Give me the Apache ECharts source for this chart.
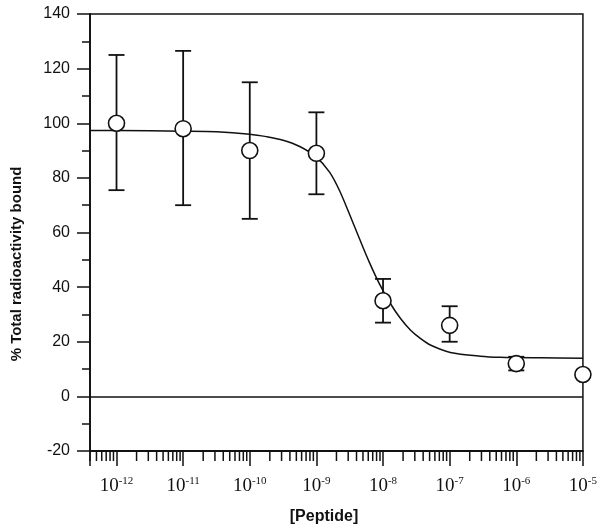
<!DOCTYPE html>
<html>
<head>
<meta charset="utf-8">
<script src="https://cdn.jsdelivr.net/npm/echarts@6/dist/echarts.min.js"></script>
<style>
  html, body { margin: 0; padding: 0; background: #fff; }
  #chart { width: 600px; height: 532px; }
</style>
</head>
<body>
<div id="chart"></div>
<script>
// measured points: concentration (M), % bound, error bar ends
var conc = [1e-12, 1e-11, 1e-10, 1e-9, 1e-8, 1e-7, 1e-6, 1e-5];
var bound = [100, 98, 90, 89, 35, 26, 12, 8];
var errLow = [75.5, 70, 65, 74, 27, 20, 9.5, null];
var errHigh = [125, 126.5, 115, 104, 43, 33, 14.5, null];

// fitted curve (log10 of concentration, % bound)
var curveExp = [-12.4, -12, -11, -10.5, -10, -9.75, -9.5, -9.25, -9.0, -8.8, -8.65, -8.5, -8.35,
  -8.2, -8.05, -7.89, -7.74, -7.59, -7.44, -7.29, -6.99, -6.54, -6.24, -5.64, -5.0];
var curveVal = [97.3, 97.3, 97.1, 96.9, 96.0, 95.1, 93.8, 91.5, 87.6, 82.0, 75.2, 66.5, 57.5,
  48.8, 41.0, 34.0, 28.6, 24.3, 21.2, 18.8, 16.1, 14.7, 14.3, 14.1, 14.0];

var yTicks = [-20, 0, 20, 40, 60, 80, 100, 120, 140];

var xMin = 4e-13, xMax = 1e-5;

// minor ticks on the log axis: 2..9 within each decade
var minorTicks = [];
for (var n = -13; n <= -6; n++) {
  for (var k = 2; k <= 9; k++) {
    var v = k * Math.pow(10, n);
    if (v >= xMin * 0.999 && v < xMax) minorTicks.push([v, -20]);
  }
}

var ink = '#111';
var myChart = echarts.init(document.getElementById('chart'));

var option = {
  animation: false,
  grid: {
    left: 90, right: 16, top: 14, bottom: 81,
    show: true, borderColor: ink, borderWidth: 1.5
  },
  xAxis: {
    type: 'log',
    logBase: 10,
    min: xMin,
    max: xMax,
    axisLine: { onZero: false, lineStyle: { color: ink, width: 1.8 } },
    axisTick: { length: 15, lineStyle: { color: ink, width: 1.5 } },
    splitLine: { show: false },
    axisLabel: {
      margin: 25,
      formatter: function (value) {
        var l = Math.log10(value);
        var e = Math.round(l);
        if (Math.abs(l - e) > 1e-6) return '';
        return '{b|10}{s|' + e + '}';
      },
      rich: {
        b: { fontFamily: 'Liberation Serif', fontSize: 19, lineHeight: 20, color: ink },
        s: { fontFamily: 'Liberation Serif', fontSize: 11, lineHeight: 11, verticalAlign: 'top', color: ink }
      }
    }
  },
  yAxis: {
    type: 'value',
    min: -20,
    max: 140,
    interval: 20,
    axisLine: { show: true, lineStyle: { color: ink, width: 1.8 } },
    axisTick: { length: 13, lineStyle: { color: ink, width: 1.5 } },
    minorTick: { show: true, splitNumber: 2, length: 8, lineStyle: { color: ink, width: 1.5 } },
    splitLine: { show: false },
    axisLabel: {
      margin: 20,
      fontFamily: 'Liberation Sans',
      fontSize: 16,
      color: ink,
      formatter: function (v) { return yTicks.indexOf(v) >= 0 ? String(v) : ''; }
    }
  },
  graphic: [
    {
      type: 'text',
      x: 17, y: 264,
      rotation: Math.PI / 2,
      style: {
        text: '% Total radioactivity bound',
        fontFamily: 'Liberation Sans', fontWeight: 'bold', fontSize: 15,
        fill: ink, align: 'center', verticalAlign: 'middle'
      }
    },
    {
      type: 'text',
      x: 324, y: 517,
      style: {
        text: '[Peptide]',
        fontFamily: 'Liberation Sans', fontWeight: 'bold', fontSize: 16,
        fill: ink, align: 'center', verticalAlign: 'middle'
      }
    }
  ],
  series: [
    {
      name: 'minor ticks',
      type: 'custom',
      silent: true,
      clip: false,
      data: minorTicks,
      renderItem: function (params, api) {
        var p = api.coord([api.value(0), api.value(1)]);
        return {
          type: 'line',
          shape: { x1: p[0], y1: p[1], x2: p[0], y2: p[1] + 10 },
          style: { stroke: ink, lineWidth: 1.5 }
        };
      }
    },
    {
      name: 'fit',
      type: 'line',
      smooth: 0.3,
      showSymbol: false,
      silent: true,
      z: 2,
      lineStyle: { color: ink, width: 1.5 },
      data: curveExp.map(function (e, i) { return [Math.pow(10, e), curveVal[i]]; }),
      markLine: {
        silent: true,
        symbol: 'none',
        label: { show: false },
        lineStyle: { color: ink, width: 1.5, type: 'solid' },
        data: [{ yAxis: 0 }]
      }
    },
    {
      name: 'error',
      type: 'custom',
      silent: true,
      z: 3,
      data: conc.map(function (c, i) { return [c, errLow[i], errHigh[i]]; })
        .filter(function (d) { return d[1] !== null; }),
      renderItem: function (params, api) {
        var lo = api.coord([api.value(0), api.value(1)]);
        var hi = api.coord([api.value(0), api.value(2)]);
        var w = 8;
        var st = { stroke: ink, lineWidth: 1.8 };
        return {
          type: 'group',
          children: [
            { type: 'line', shape: { x1: lo[0], y1: lo[1], x2: hi[0], y2: hi[1] }, style: st },
            { type: 'line', shape: { x1: lo[0] - w, y1: lo[1], x2: lo[0] + w, y2: lo[1] }, style: st },
            { type: 'line', shape: { x1: hi[0] - w, y1: hi[1], x2: hi[0] + w, y2: hi[1] }, style: st }
          ]
        };
      }
    },
    {
      name: 'data',
      type: 'scatter',
      z: 4,
      symbol: 'circle',
      symbolSize: 16,
      itemStyle: { color: '#fff', borderColor: ink, borderWidth: 1.6, opacity: 1 },
      data: conc.map(function (c, i) { return [c, bound[i]]; })
    }
  ]
};

myChart.setOption(option);
window.addEventListener('resize', function () {
  myChart.resize();
});
</script>
</body>
</html>
